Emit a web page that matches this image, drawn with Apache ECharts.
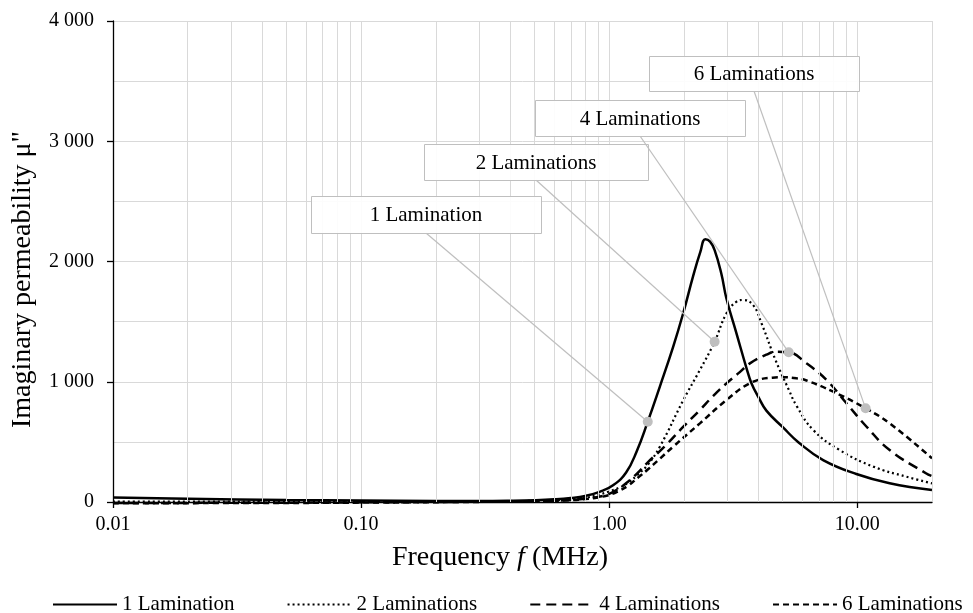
<!DOCTYPE html>
<html>
<head>
<meta charset="utf-8">
<script src="https://cdn.jsdelivr.net/npm/echarts@6/dist/echarts.min.js"></script>
<style>
  html, body { margin: 0; padding: 0; background: #fff; }
  #chart { width: 973px; height: 613px; }
</style>
</head>
<body>
<div id="chart"></div>
<script>
// Imaginary permeability spectra of laminated cores (frequency in MHz)
const seriesNames = ['1 Lamination', '2 Laminations', '4 Laminations', '6 Laminations'];

const freq1 = [0.01, 0.02, 0.05, 0.1, 0.2, 0.3, 0.4, 0.5, 0.6, 0.7, 0.8, 0.92, 1.04, 1.17, 1.29, 1.43, 1.6, 1.81, 1.99, 2.18, 2.33, 2.44, 2.55, 2.66, 2.83, 2.97, 3.26, 3.58, 3.74, 4.0, 4.3, 5.02, 5.8, 7.28, 9.91, 13.5, 20];
const mu1   = [38, 27, 17, 12, 9, 9, 11, 15, 22, 33, 50, 86, 141, 245, 420, 668, 960, 1290, 1575, 1880, 2080, 2185, 2165, 2095, 1900, 1690, 1400, 1110, 990, 870, 760, 620, 495, 349, 233, 156, 100];

const freq2 = [0.01, 0.1, 0.3, 0.5, 0.7, 0.8, 0.9, 1.0, 1.1, 1.2, 1.3, 1.43, 1.6, 1.99, 2.32, 2.66, 2.97, 3.26, 3.47, 3.8, 4.11, 4.68, 5.29, 5.69, 6.64, 8.49, 11.6, 15.8, 20];
const mu2   = [3, 3, 5, 10, 22, 35, 58, 88, 120, 165, 225, 310, 460, 848, 1098, 1333, 1569, 1666, 1680, 1638, 1486, 1181, 935, 800, 599, 432, 294, 210, 155];

const freq4 = [0.01, 0.05, 0.1, 0.3, 0.5, 0.7, 0.8, 0.9, 1.0, 1.1, 1.2, 1.3, 1.43, 1.67, 1.99, 2.32, 2.62, 2.97, 3.36, 3.69, 4.3, 4.7, 5.29, 6.24, 7.51, 9.04, 10.9, 13.5, 18.9, 20];
const mu4   = [-8, -6, -3, 2, 7, 17, 27, 42, 68, 115, 175, 240, 330, 460, 626, 765, 880, 987, 1080, 1153, 1225, 1250, 1245, 1153, 1015, 821, 626, 432, 239, 215];

const freq6 = [0.01, 0.05, 0.1, 0.3, 0.5, 0.7, 0.8, 0.9, 1.0, 1.1, 1.2, 1.3, 1.43, 1.6, 1.81, 2.32, 2.97, 3.69, 4.55, 5.02, 5.69, 6.24, 8.0, 10.8, 13.5, 20];
const mu6   = [-10, -8, -5, 1, 6, 15, 24, 38, 58, 95, 140, 200, 270, 360, 460, 654, 848, 987, 1034, 1037, 1029, 1010, 917, 779, 654, 363];

// Frequencies at which each curve carries its callout marker
const calloutFreq = [1.43, 2.66, 5.29, 10.8];

// Labelled decades on the frequency axis
const decadeTicks = [0.01, 0.1, 1, 10];

// Minor vertical grid lines (2..9 within each decade)
const minorFreq = [0.02, 0.03, 0.04, 0.05, 0.06, 0.07, 0.08, 0.09,
                   0.2, 0.3, 0.4, 0.5, 0.6, 0.7, 0.8, 0.9,
                   2, 3, 4, 5, 6, 7, 8, 9, 20];

const freqs = [freq1, freq2, freq4, freq6];
const values = [mu1, mu2, mu4, mu6];

// Callout box placement in pixels (layout only)
const calloutBoxes = [
  { x: 311, y: 196, w: 230, h: 37 },
  { x: 424, y: 144, w: 224, h: 36 },
  { x: 535, y: 100, w: 210, h: 36 },
  { x: 649, y: 56,  w: 210, h: 35 }
];

const lineStyles = [
  { width: 2.5, type: 'solid' },
  { width: 2.2, type: [2, 3] },
  { width: 2.5, type: [10, 6] },
  { width: 2.5, type: [6, 4] }
];

const FONT = '"Liberation Serif", "Times New Roman", serif';

function zip(xs, ys) { return xs.map((x, i) => [x, ys[i]]); }
function thousands(v) {
  return String(Math.round(v)).replace(/\B(?=(\d{3})+(?!\d))/g, ' ');
}

const calloutData = calloutFreq.map((f, i) => {
  const j = freqs[i].indexOf(f);
  return [f, values[i][j]];
});

const lineSeries = seriesNames.map((name, i) => ({
  name: name,
  type: 'line',
  data: zip(freqs[i], values[i]),
  smooth: 0.45,
  symbol: 'none',
  clip: false,
  z: 3,
  lineStyle: Object.assign({ color: '#000', cap: 'butt' }, lineStyles[i]),
  itemStyle: { color: '#000' },
  animation: false
}));

const chart = echarts.init(document.getElementById('chart'), null, { renderer: 'canvas' });

chart.setOption({
  backgroundColor: '#fff',
  animation: false,
  textStyle: { fontFamily: FONT, color: '#000' },
  grid: { left: 113, right: 41, top: 21, bottom: 111, containLabel: false },
  xAxis: {
    type: 'log',
    logBase: 10,
    min: 0.01,
    max: 20,
    name: '{a|Frequency }{i|f}{a| (MHz)}',
    nameLocation: 'middle',
    nameGap: 41,
    nameTextStyle: {
      padding: [0, 45, 0, 0],
      rich: {
        a: { fontFamily: FONT, fontSize: 28, color: '#000', lineHeight: 30 },
        i: { fontFamily: FONT, fontSize: 28, fontStyle: 'italic', color: '#000', lineHeight: 30 }
      }
    },
    axisLine: { show: true, lineStyle: { color: '#000', width: 1.3 } },
    axisTick: { show: true, inside: false, length: 6, customValues: decadeTicks, lineStyle: { color: '#000', width: 1.3 } },
    axisLabel: {
      fontFamily: FONT, fontSize: 20, color: '#000', margin: 13,
      customValues: decadeTicks,
      formatter: v => Number(v).toFixed(2)
    },
    splitLine: { show: true, lineStyle: { color: '#d9d9d9', width: 1 } },
    minorTick: { show: false },
    minorSplitLine: { show: false }
  },
  yAxis: {
    type: 'value',
    min: 0,
    max: 4000,
    interval: 1000,
    name: 'Imaginary permeability μ"',
    nameLocation: 'middle',
    nameGap: 72,
    nameTextStyle: { fontFamily: FONT, fontSize: 28, color: '#000', lineHeight: 30, padding: [0, 36, 0, 0] },
    axisLine: { show: true, lineStyle: { color: '#000', width: 1.3 } },
    axisTick: { show: true, inside: false, length: 6, lineStyle: { color: '#000', width: 1.3 } },
    axisLabel: { fontFamily: FONT, fontSize: 20, color: '#000', margin: 19, formatter: v => thousands(v) },
    splitLine: { show: true, lineStyle: { color: '#d9d9d9', width: 1 } },
    minorTick: { show: false, splitNumber: 2 },
    minorSplitLine: { show: true, lineStyle: { color: '#d9d9d9', width: 1 } }
  },
  legend: {
    data: seriesNames,
    left: 47,
    top: 589,
    width: 926,
    itemWidth: 64,
    itemHeight: 12,
    itemGap: 52,
    itemStyle: { opacity: 0 },
    textStyle: { fontFamily: FONT, fontSize: 21, color: '#000' },
    inactiveColor: '#000'
  },
  series: [
    {
      name: 'minor-grid',
      type: 'line',
      data: [],
      z: 1,
      silent: true,
      markLine: {
        silent: true,
        symbol: 'none',
        animation: false,
        label: { show: false },
        lineStyle: { color: '#d9d9d9', width: 1, type: 'solid' },
        data: minorFreq.map(v => ({ xAxis: v }))
      }
    },
    ...lineSeries,
    {
      name: 'callouts',
      type: 'custom',
      z: 5,
      clip: false,
      silent: true,
      data: calloutData,
      renderItem: function (params, api) {
        const i = params.dataIndex;
        const pt = api.coord([api.value(0), api.value(1)]);
        const b = calloutBoxes[i];
        const ax = b.x + b.w / 2;
        const ay = b.y + b.h;
        return {
          type: 'group',
          children: [
            {
              type: 'line',
              shape: { x1: ax, y1: ay, x2: pt[0], y2: pt[1] },
              style: { stroke: '#bfbfbf', lineWidth: 1.2 }
            },
            {
              type: 'rect',
              shape: { x: b.x + 0.5, y: b.y + 0.5, width: b.w, height: b.h },
              style: { fill: 'rgba(255,255,255,0.92)', stroke: '#bfbfbf', lineWidth: 1 }
            },
            {
              type: 'text',
              style: {
                text: seriesNames[i],
                x: ax,
                y: b.y + b.h / 2 + 1,
                align: 'center',
                verticalAlign: 'middle',
                textAlign: 'center',
                textVerticalAlign: 'middle',
                font: '21px ' + FONT,
                fill: '#000'
              }
            },
            {
              type: 'circle',
              shape: { cx: pt[0], cy: pt[1], r: 5 },
              style: { fill: '#bfbfbf' }
            }
          ]
        };
      }
    }
  ]
});
</script>
</body>
</html>
